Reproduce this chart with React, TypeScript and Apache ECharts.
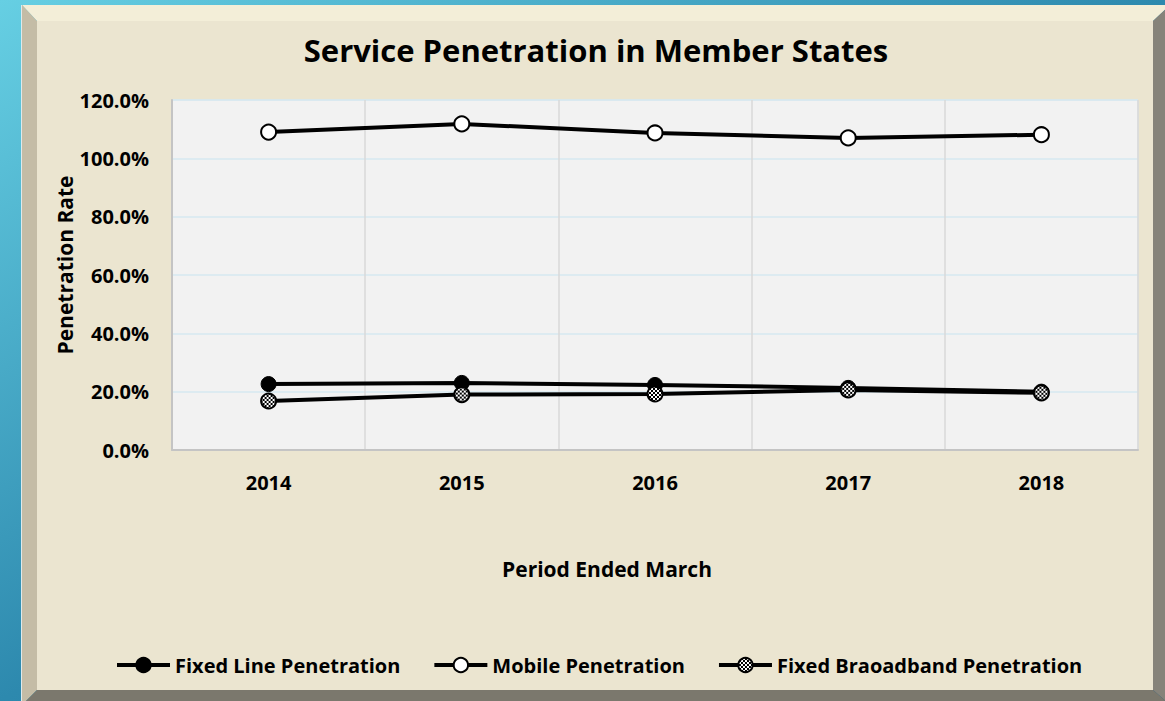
import React, { useEffect, useRef } from "react";
import * as echarts from "echarts";

const years = ["2014", "2015", "2016", "2017", "2018"];
const fixedLine = [22.6, 23.0, 22.3, 21.3, 20.0];
const mobile = [109.0, 111.8, 108.7, 107.0, 108.1];
const broadband = [16.8, 19.0, 19.2, 20.6, 19.6];
const seriesNames = ["Fixed Line Penetration", "Mobile Penetration", "Fixed Braoadband Penetration"];
const chartTitle = "Service Penetration in Member States";
const yName = "Penetration Rate";
const xName = "Period Ended March";

const FONT = "'Open Sans', 'Noto Sans', sans-serif";

function makeChecker(): string {
  const c = document.createElement("canvas");
  c.width = 4;
  c.height = 4;
  const ctx = c.getContext("2d")!;
  ctx.fillStyle = "#ffffff";
  ctx.fillRect(0, 0, 4, 4);
  ctx.fillStyle = "#000000";
  ctx.fillRect(0, 0, 2, 2);
  ctx.fillRect(2, 2, 2, 2);
  return c.toDataURL();
}

export default function App() {
  const ref = useRef<HTMLDivElement>(null);
  useEffect(() => {
    if (!ref.current) return;
    const chart = echarts.init(ref.current, undefined, { renderer: "svg" });
    const img = makeChecker();
    const SYM = 15;
    // symbols are drawn at unit size and scaled by size/2, so the pattern is scaled back
    const checkerSeries = { image: img, repeat: "repeat", scaleX: 2 / SYM, scaleY: 2 / SYM };
    const checkerLegend = { image: img, repeat: "repeat" };
    const W = 1165;
    const H = 701;
    const option: any = {
      animation: false,
      graphic: {
        elements: [
          {
            type: "rect",
            z: -100,
            shape: { x: 0, y: 0, width: W, height: H },
            style: {
              fill: new echarts.graphic.LinearGradient(0, 0, 1, 1, [
                { offset: 0, color: "#66cfe3" },
                { offset: 0.5, color: "#2d89ae" },
                { offset: 1, color: "#1b5f8a" },
              ]),
            },
          },
          {
            type: "polygon",
            z: -99,
            shape: { points: [[22, 5], [1170, 5], [1153, 21], [37, 21]] },
            style: { fill: "#f3eed8" },
          },
          {
            type: "polygon",
            z: -99,
            shape: { points: [[22, 5], [37, 21], [37, 690], [22, 705]] },
            style: { fill: "#c4bca6" },
          },
          {
            type: "polygon",
            z: -99,
            shape: { points: [[1153, 21], [1170, 5], [1170, 705], [1153, 690]] },
            style: { fill: "#86837a" },
          },
          {
            type: "polygon",
            z: -99,
            shape: { points: [[37, 690], [1153, 690], [1170, 705], [22, 705]] },
            style: { fill: "#7b786d" },
          },
          {
            type: "rect",
            z: -98,
            shape: { x: 37, y: 21, width: 1116, height: 669 },
            style: { fill: "#ebe5d0" },
          },
          {
            type: "line",
            z: -97,
            shape: { x1: 21.5, y1: 5, x2: 21.5, y2: 701 },
            style: { stroke: "#dfe9ea", lineWidth: 1 },
          },
          {
            type: "text",
            z: 10,
            x: 65,
            y: 265,
            rotation: Math.PI / 2,
            style: {
              text: yName,
              font: `bold 21px ${FONT}`,
              fill: "#000",
              align: "center",
              verticalAlign: "middle",
              textAlign: "center",
              textVerticalAlign: "middle",
            },
          },
          {
            type: "text",
            z: 10,
            x: 607,
            y: 569,
            style: {
              text: xName,
              font: `bold 21px ${FONT}`,
              fill: "#000",
              align: "center",
              verticalAlign: "middle",
              textAlign: "center",
              textVerticalAlign: "middle",
            },
          },
        ],
      },
      title: {
        text: chartTitle,
        left: 591,
        top: 29,
        textAlign: "center",
        textStyle: { fontFamily: FONT, fontWeight: "bold", fontSize: 31, color: "#000" },
      },
      grid: {
        left: 172,
        right: 27,
        top: 100,
        bottom: 251,
        show: true,
        backgroundColor: "#f2f2f2",
        borderColor: "#dbe6ec",
        borderWidth: 1,
      },
      legend: {
        left: 115,
        top: 655,
        padding: 0,
        itemWidth: 53,
        itemHeight: 18,
        itemGap: 32,
        lineStyle: { width: 4, color: "#000" },
        textStyle: { fontFamily: FONT, fontWeight: "bold", fontSize: 20, color: "#000" },
        data: [
          { name: seriesNames[0] },
          { name: seriesNames[1] },
          { name: seriesNames[2], itemStyle: { color: checkerLegend } },
        ],
      },
      xAxis: {
        type: "category",
        data: years,
        boundaryGap: true,
        axisLine: { show: true, lineStyle: { color: "#c4c4c4", width: 2 } },
        axisTick: { show: false },
        axisLabel: { margin: 22, fontFamily: FONT, fontWeight: "bold", fontSize: 20, color: "#000" },
        splitLine: { show: true, lineStyle: { color: "#d9d9d9", width: 1.5 } },
      },
      yAxis: {
        type: "value",
        min: 0,
        max: 120,
        interval: 20,
        axisLine: { show: true, lineStyle: { color: "#c4c4c4", width: 2 } },
        axisTick: { show: false },
        axisLabel: {
          margin: 23,
          fontFamily: FONT,
          fontWeight: "bold",
          fontSize: 20,
          color: "#000",
          formatter: (v: number) => v.toFixed(1) + "%",
        },
        splitLine: { show: true, lineStyle: { color: "#d6e9f1", width: 1.5 } },
      },
      series: [
        {
          name: seriesNames[0],
          type: "line",
          data: fixedLine,
          symbol: "circle",
          symbolSize: SYM,
          lineStyle: { color: "#000", width: 4 },
          itemStyle: { color: "#000", borderColor: "#000", borderWidth: 1 },
          z: 3,
        },
        {
          name: seriesNames[1],
          type: "line",
          data: mobile,
          symbol: "circle",
          symbolSize: SYM,
          lineStyle: { color: "#000", width: 4 },
          itemStyle: { color: "#ffffff", borderColor: "#000", borderWidth: 2 },
          z: 4,
        },
        {
          name: seriesNames[2],
          type: "line",
          data: broadband,
          symbol: "circle",
          symbolSize: SYM,
          lineStyle: { color: "#000", width: 4 },
          itemStyle: { color: checkerSeries, borderColor: "#000", borderWidth: 2 },
          z: 5,
        },
      ],
    };
    chart.setOption(option);
    return () => chart.dispose();
  }, []);
  return (
    <div
      ref={ref}
      style={{ position: "absolute", left: 0, top: 0, width: 1165, height: 701 }}
    />
  );
}
